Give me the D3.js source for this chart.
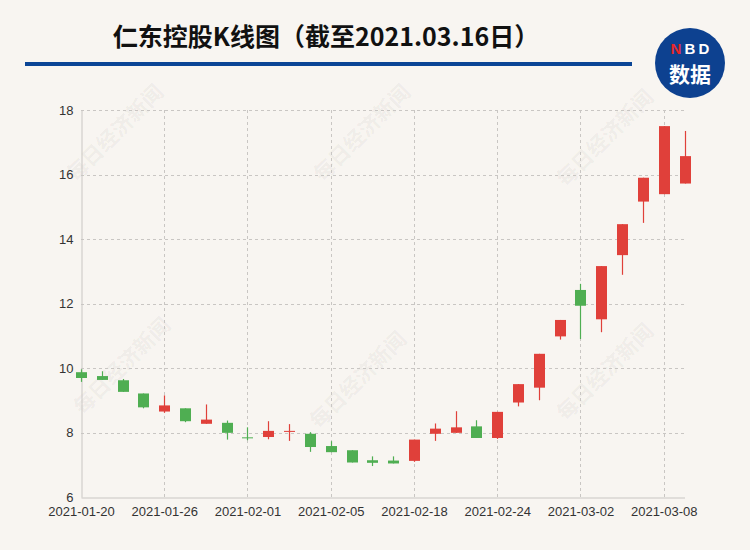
<!DOCTYPE html>
<head>
  <meta charset="utf-8">
  <script src="https://d3js.org/d3.v7.min.js"></script>
  <style type="text/css">
    body { margin: 0; background: #f8f5f1; }
    svg { display: block; }
    text { font-family: "Liberation Sans", Arial, sans-serif; }
  </style>
</head>

<body>
  <script type="text/javascript">
    // trading days and daily prices
    var dates = ["2021-01-20", "2021-01-21", "2021-01-22", "2021-01-25", "2021-01-26",
      "2021-01-27", "2021-01-28", "2021-01-29", "2021-02-01", "2021-02-02",
      "2021-02-03", "2021-02-04", "2021-02-05", "2021-02-08", "2021-02-09",
      "2021-02-10", "2021-02-18", "2021-02-19", "2021-02-22", "2021-02-23",
      "2021-02-24", "2021-02-25", "2021-02-26", "2021-03-01", "2021-03-02",
      "2021-03-03", "2021-03-04", "2021-03-05", "2021-03-08", "2021-03-09"];
    var open  = [9.87, 9.75, 9.62, 9.21, 8.65, 8.75, 8.27, 8.30, 7.85, 7.86,
                 8.03, 7.96, 7.58, 7.45, 7.14, 7.13, 7.12, 7.96, 7.99, 8.19,
                 7.83, 8.93, 9.39, 10.98, 12.42, 11.51, 13.50, 15.16, 15.39, 15.72];
    var close = [9.69, 9.63, 9.26, 8.78, 8.84, 8.35, 8.40, 7.99, 7.82, 8.05,
                 8.05, 7.55, 7.39, 7.07, 7.06, 7.04, 7.78, 8.12, 8.16, 7.83,
                 8.64, 9.50, 10.44, 11.49, 11.93, 13.16, 14.46, 15.90, 17.50, 16.57];
    var high  = [9.96, 9.90, 9.66, 9.21, 9.15, 8.75, 8.87, 8.37, 8.16, 8.35,
                 8.26, 8.01, 7.73, 7.45, 7.26, 7.26, 7.78, 8.28, 8.66, 8.38,
                 8.64, 9.50, 10.44, 11.49, 12.61, 13.16, 14.46, 15.90, 17.50, 17.35];
    var low   = [9.57, 9.63, 9.26, 8.75, 8.61, 8.32, 8.27, 7.78, 7.76, 7.79,
                 7.74, 7.40, 7.39, 7.07, 6.96, 7.04, 7.09, 7.74, 7.99, 7.83,
                 7.80, 8.81, 9.00, 10.88, 10.90, 11.11, 12.89, 14.50, 15.39, 15.72];
    var xTickLabels = ["2021-01-20", "2021-01-26", "2021-02-01", "2021-02-05",
                       "2021-02-18", "2021-02-24", "2021-03-02", "2021-03-08"];
    var yTicks = [6, 8, 10, 12, 14, 16, 18];
    var title = "仁东控股K线图（截至2021.03.16日）";

    var width = 750, height = 550;
    var plot = { left: 81, right: 684.5, top: 110, bottom: 497 };
    var upColor = "#e0403a", downColor = "#4fae52";

    var data = dates.map(function(d, i) {
      return { date: d, open: open[i], close: close[i], high: high[i], low: low[i] };
    });

    var svg = d3.select("body").append("svg")
      .attr("width", width)
      .attr("height", height);

    svg.append("rect")
      .attr("width", width).attr("height", height)
      .attr("fill", "#f8f5f1");

    var xScale = d3.scalePoint().domain(dates).range([plot.left, plot.right]);
    var yScale = d3.scaleLinear().domain([6, 18]).range([plot.bottom, plot.top]);

    // watermark
    var marks = [[115, 133], [362, 133], [605, 138], [122, 366], [358, 380], [605, 372]];
    svg.append("g").selectAll("text")
      .data(marks)
      .enter().append("text")
      .attr("transform", function(d) { return "translate(" + d + ") rotate(-45)"; })
      .attr("text-anchor", "middle")
      .attr("dy", "0.35em")
      .style("font-family", "'Noto Sans CJK SC', sans-serif")
      .style("font-weight", "bold")
      .style("font-size", "21px")
      .attr("fill", "#000")
      .attr("fill-opacity", 0.055)
      .text("每日经济新闻");

    // header
    svg.append("text")
      .attr("x", 326).attr("y", 46)
      .attr("text-anchor", "middle")
      .style("font-family", "'Noto Sans CJK SC', sans-serif")
      .style("font-weight", "bold")
      .style("font-size", "25px")
      .attr("fill", "#111")
      .text(title);

    svg.append("rect")
      .attr("x", 25).attr("y", 62)
      .attr("width", 607).attr("height", 4)
      .attr("fill", "#0b4596");

    var logo = svg.append("g").attr("transform", "translate(690,63)");
    logo.append("circle").attr("r", 35).attr("fill", "#0d4190");
    logo.selectAll(".nbd")
      .data([["N", -14, "#e8262a"], ["B", 0, "#fff"], ["D", 14, "#fff"]])
      .enter().append("text")
      .attr("x", function(d) { return d[1]; })
      .attr("y", -9)
      .attr("text-anchor", "middle")
      .style("font-weight", "bold")
      .style("font-size", "15px")
      .attr("fill", function(d) { return d[2]; })
      .text(function(d) { return d[0]; });
    logo.append("text")
      .attr("y", 19)
      .attr("text-anchor", "middle")
      .style("font-family", "'Noto Sans CJK SC', sans-serif")
      .style("font-weight", "bold")
      .style("font-size", "21px")
      .attr("fill", "#fff")
      .text("数据");

    // grid
    var grid = svg.append("g")
      .attr("stroke", "#c9c6c3")
      .attr("stroke-dasharray", "3,3");

    grid.selectAll(".hgrid")
      .data(yTicks.slice(1))
      .enter().append("line")
      .attr("x1", plot.left).attr("x2", plot.right)
      .attr("y1", function(d) { return Math.round(yScale(d)) + 0.5; })
      .attr("y2", function(d) { return Math.round(yScale(d)) + 0.5; });

    grid.selectAll(".vgrid")
      .data(xTickLabels.slice(1))
      .enter().append("line")
      .attr("x1", function(d) { return Math.round(xScale(d)) + 0.5; })
      .attr("x2", function(d) { return Math.round(xScale(d)) + 0.5; })
      .attr("y1", plot.top).attr("y2", plot.bottom);

    // axes
    var yAxis = d3.axisLeft(yScale).tickValues(yTicks).tickSize(0).tickPadding(8);
    var gy = svg.append("g")
      .attr("transform", "translate(" + (plot.left + 0.5) + ",0)")
      .call(yAxis);
    gy.select(".domain").attr("stroke", "#c9c6c3");
    gy.selectAll("text").style("font-size", "13px").attr("fill", "#333");

    var xAxis = d3.axisBottom(xScale).tickValues(xTickLabels).tickSize(0).tickPadding(9);
    var gx = svg.append("g")
      .attr("transform", "translate(0," + (plot.bottom + 0.5) + ")")
      .call(xAxis);
    gx.select(".domain").attr("stroke", "#c9c6c3");
    gx.selectAll("text").style("font-size", "13px").attr("fill", "#333");

    // candles
    var candles = svg.append("g").selectAll("g")
      .data(data)
      .enter().append("g")
      .attr("fill", function(d) { return d.close >= d.open ? upColor : downColor; })
      .attr("stroke", function(d) { return d.close >= d.open ? upColor : downColor; });

    candles.append("line")
      .attr("x1", function(d) { return Math.round(xScale(d.date)) + 0.5; })
      .attr("x2", function(d) { return Math.round(xScale(d.date)) + 0.5; })
      .attr("y1", function(d) { return yScale(d.high); })
      .attr("y2", function(d) { return yScale(d.low); })
      .attr("stroke-width", 1.2);

    candles.append("rect")
      .attr("x", function(d) { return Math.round(xScale(d.date)) - 5; })
      .attr("width", 11)
      .attr("y", function(d) { return yScale(Math.max(d.open, d.close)); })
      .attr("height", function(d) {
        return Math.max(1, Math.abs(yScale(d.open) - yScale(d.close)));
      })
      .attr("stroke", "none");
  </script>
</body>
